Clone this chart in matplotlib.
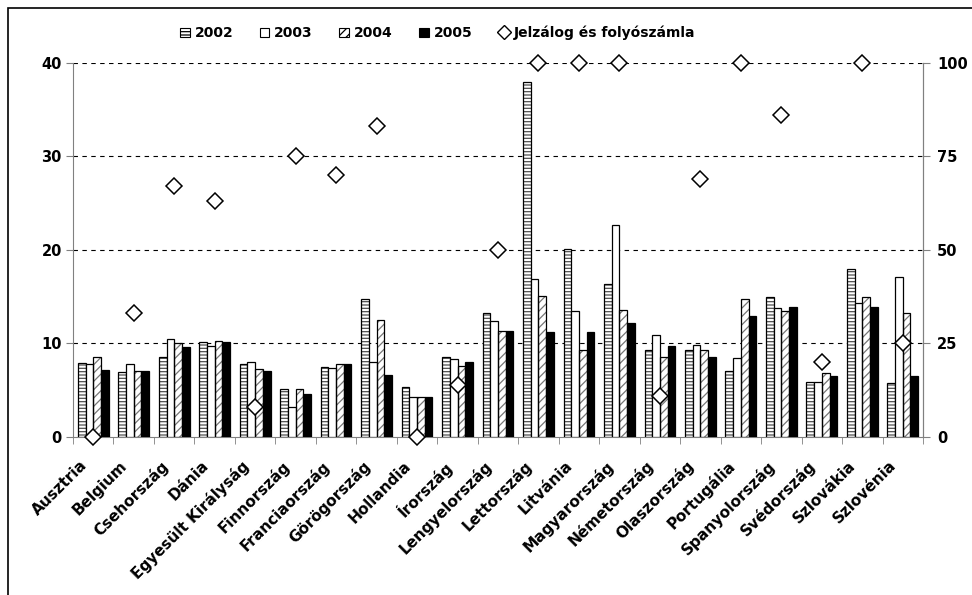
import numpy as np
import matplotlib.pyplot as plt
import matplotlib.transforms as mtransforms
from matplotlib.lines import Line2D
from matplotlib.patches import Patch, Rectangle

plt.rcParams['font.family'] = ['DejaVu Sans']
plt.rcParams['font.weight'] = 'bold'
plt.rcParams['hatch.linewidth'] = 0.9

countries = ['Ausztria', 'Belgium', 'Csehország', 'Dánia', 'Egyesült Királyság',
             'Finnország', 'Franciaország', 'Görögország', 'Hollandia', 'Írország',
             'Lengyelország', 'Lettország', 'Litvánia', 'Magyarország', 'Németország',
             'Olaszország', 'Portugália', 'Spanyolország', 'Svédország', 'Szlovákia',
             'Szlovénia']

y2002 = [7.9, 6.9, 8.5, 10.2, 7.8, 5.1, 7.45, 14.8, 5.35, 8.5, 13.3,
         37.9, 20.1, 16.35, 9.25, 9.35, 7.05, 15.0, 5.9, 18.0, 5.8]
y2003 = [7.8, 7.8, 10.5, 9.7, 8.05, 3.25, 7.4, 8.05, 4.3, 8.35, 12.4,
         16.9, 13.5, 22.7, 10.9, 9.8, 8.4, 13.75, 5.9, 14.35, 17.05]
y2004 = [8.5, 7.0, 10.0, 10.3, 7.3, 5.1, 7.8, 12.5, 4.25, 7.6, 11.35,
         15.1, 9.35, 13.6, 8.5, 9.35, 14.8, 13.5, 6.8, 15.0, 13.3]
y2005 = [7.2, 7.05, 9.65, 10.2, 7.05, 4.6, 7.8, 6.6, 4.3, 8.05, 11.35,
         11.2, 11.2, 12.15, 9.7, 8.5, 12.9, 13.9, 6.55, 13.9, 6.55]
# share of mortgage and current-account loans, right axis (%)
jelzalog = [0, 33, 67, 63, 8, 75, 70, 83, 0, 14, 50,
            100, 100, 100, 11, 69, 100, 86, 20, 100, 25]

fig = plt.figure(figsize=(9.72, 5.95), dpi=100)
ax = fig.add_axes([73 / 972, 1 - 437 / 595, 850 / 972, (437 - 62.7) / 595])

x = np.arange(len(countries))
w = 0.19
styles = [
    dict(face='white', hatch='-----', hcol='#505050'),
    dict(face='white', hatch=None, hcol=None),
    dict(face='white', hatch='////', hcol='#777777'),
    dict(face='black', hatch=None, hcol=None),
]
series = [y2002, y2003, y2004, y2005]
for i, (vals, st) in enumerate(zip(series, styles)):
    pos = x + (i - 1.5) * w
    if st['hatch']:
        ax.bar(pos, vals, w, color=st['face'], hatch=st['hatch'],
               edgecolor=st['hcol'], linewidth=0, zorder=2)
        ax.bar(pos, vals, w, fill=False, edgecolor='black', linewidth=0.9, zorder=3)
    else:
        ax.bar(pos, vals, w, color=st['face'], edgecolor='black', linewidth=0.9, zorder=3)

ax.set_ylim(0, 40)
ax.set_xlim(-0.5, len(countries) - 0.5)
ax.set_yticks([0, 10, 20, 30, 40])
ax.tick_params(axis='y', labelsize=10.5, length=5, color='#808080', pad=3)
for yy in [10, 20, 30, 40]:
    ax.axhline(yy, color='black', lw=0.8, ls=(0, (4, 4)), zorder=1)

ax.set_xticks(x)
ax.set_xticklabels(countries, rotation=45, ha='right', va='top',
                   rotation_mode='anchor', fontsize=11)
ax.tick_params(axis='x', which='major', length=0, pad=15)
shift = mtransforms.ScaledTranslation(-14 / 100, 0, fig.dpi_scale_trans)
for lab in ax.get_xticklabels():
    lab.set_transform(lab.get_transform() + shift)
ax.set_xticks(np.arange(len(countries) + 1) - 0.5, minor=True)
ax.tick_params(axis='x', which='minor', length=5, color='#808080')

for s in ['left', 'right', 'bottom']:
    ax.spines[s].set_color('#808080')
ax.spines['top'].set_visible(False)

ax2 = ax.twinx()
ax2.set_ylim(0, 100)
ax2.set_yticks([0, 25, 50, 75, 100])
ax2.tick_params(axis='y', labelsize=10.5, length=5, color='#808080', pad=5)
ax2.spines['right'].set_color('#808080')
ax2.spines['top'].set_visible(False)
ax2.spines['left'].set_visible(False)
ax2.spines['bottom'].set_visible(False)
ax2.plot(x, jelzalog, ls='none', marker='D', ms=8, mfc='white', mec='black',
         mew=1.1, clip_on=False, zorder=5)

handles = [
    Patch(facecolor='white', hatch='-----', edgecolor='black', lw=0.8),
    Patch(facecolor='white', edgecolor='black', lw=0.8),
    Patch(facecolor='white', hatch='////', edgecolor='black', lw=0.8),
    Patch(facecolor='black', edgecolor='black', lw=0.8),
    Line2D([], [], ls='none', marker='D', ms=7, mfc='white', mec='black', mew=1),
]
labels = ['2002', '2003', '2004', '2005', 'Jelzálog és folyószámla']
fig.legend(handles, labels, loc='center', bbox_to_anchor=(0.45, 1 - 33 / 595), ncol=5,
           frameon=False, fontsize=10, handlelength=0.7, handleheight=0.7,
           handletextpad=0.35, columnspacing=1.9)

# chart border
fig.patches.append(Rectangle((8 / 972, -0.1), 1.2, 1.1 - 8 / 595, transform=fig.transFigure,
                             fill=False, edgecolor='black', lw=1.2))

fig.savefig('out.png', dpi=100)
